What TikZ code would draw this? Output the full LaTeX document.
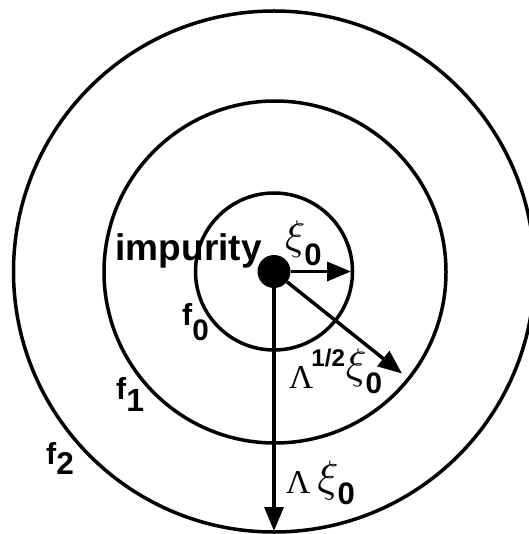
\documentclass[tikz,border=0pt]{standalone}
\usepackage{graphicx}
\usepackage{fontspec}
\setmainfont{Liberation Sans}
\newfontfamily\greekfont{Liberation Serif}
\usetikzlibrary{arrows.meta}

% glyph of a given ink height, its bottom set #2 below the baseline
\newcommand{\glyph}[3]{\raisebox{\dimexpr\depth-#2\relax}{\resizebox*{!}{#1}{#3}}}

\begin{document}
\begin{tikzpicture}[
    x=1pt, y=-1pt,
    ring/.style={draw, line width=3.5pt},
    dot/.style={circle, fill=black, inner sep=0pt, minimum size=33pt},
    radarrow/.style={line width=3.5pt, -{Triangle[length=24pt, width=19pt]}},
    lbl/.style={inner sep=0pt, anchor=base west, font=\bfseries}
]
    \useasboundingbox (0,0) rectangle (528,534);

    % the three shells
    \draw[ring] (274,271.5) circle[radius=78.5pt];
    \draw[ring] (275,272) circle[radius=171pt];
    \draw[ring] (274,271.5) circle[radius=260.5pt];

    \node[dot] (imp) at (274,271.5) {};
    \coordinate (tipxi) at (351,271.5);
    \coordinate (tiphalf) at (402,373.5);
    \coordinate (tiplam) at (274,531);

    \draw[radarrow] (imp) -- (tipxi);
    \draw[radarrow] (imp) -- (tiphalf);
    \draw[radarrow] (imp) -- (tiplam);

    % labels
    \node[lbl] (lblimp) at (115.5,260) {\resizebox{146pt}{!}{impurity}};
    \node[lbl] (lblxi) at (285,258) {\glyph{37pt}{0pt}{$\xi$}\hspace{-1pt}\glyph{22pt}{8pt}{0}};
    \node[lbl] (lblhalf) at (289,388) {\glyph{22pt}{0pt}{\greekfont\mdseries Λ}\hspace{-2pt}\glyph{18pt}{-21pt}{1/2}\hspace{1pt}\glyph{38pt}{-1pt}{$\xi$}\hspace{-1pt}\glyph{21pt}{6pt}{0}};
    \node[lbl] (lbllam) at (286,493) {\glyph{22pt}{0pt}{\greekfont\mdseries Λ}\hspace{7pt}\glyph{39pt}{7pt}{$\xi$}\hspace{-1pt}\glyph{22pt}{12pt}{0}};
    \node[lbl] (lblf0) at (182,325) {\glyph{22pt}{0pt}{f}\glyph{21pt}{16pt}{0}};
    \node[lbl] (lblf1) at (116,399) {\glyph{22pt}{0pt}{f}\glyph{22pt}{12pt}{1}};
    \node[lbl] (lblf2) at (46,464) {\glyph{22pt}{0pt}{f}\glyph{22pt}{10pt}{2}};
\end{tikzpicture}
\end{document}
